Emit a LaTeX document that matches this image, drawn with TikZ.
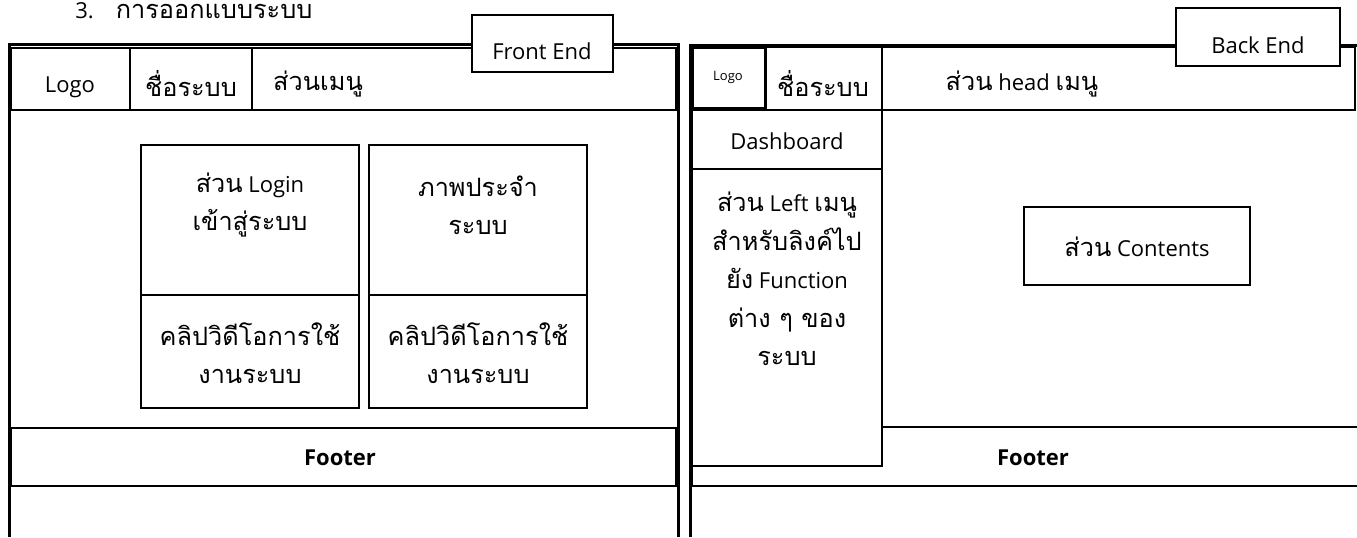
\documentclass[tikz,border=0pt]{standalone}
\usepackage{fontspec}
\setmainfont{Open Sans}
\newfontfamily\thai[Script=Thai,Scale=1.15]{Loma}
\usepackage{tikz}

\begin{document}
\begin{tikzpicture}[x=0.5pt, y=-0.5pt]
        \tikzset{
            kader/.style={line width=1.5pt},
            vak/.style={line width=1pt},
            tekst/.style={font=\fontsize{11}{19}\selectfont, align=center, inner sep=0pt},
            voet/.style={font=\fontsize{11}{19}\selectfont\bfseries, inner sep=0pt},
        }
        \useasboundingbox (0,0) rectangle (1357,537);

        % Titel
        \node[tekst, anchor=west] (titel) at (75,11) {3.\quad{\thai การออกแบบระบบ}};

        % Front End: kader en kopregel
        \draw[kader] (9,537) -- (9,44) -- (678,44) -- (678,537);
        \draw[vak] (11,48) rectangle (676,110);
        \draw[vak] (130,48) -- (130,110);
        \draw[vak] (252,48) -- (252,110);
        \node[tekst] (logoF) at (70,87) {Logo};
        \node[tekst] (naamF) at (191,84) {\thai ชื่อระบบ};
        \node[tekst] (menuF) at (318,84) {\thai ส่วนเมนู};
        \draw[vak, fill=white] (472,15) rectangle (613,72);
        \node[tekst] (frontend) at (542,51) {Front End};

        % Front End: inhoudsvakken
        \foreach \x in {141, 369} {
            \draw[vak] (\x,145) rectangle ({\x+218},408);
            \draw[vak] (\x,295) -- ({\x+218},295);
        }
        \node[tekst] (login) at (250,205) {{\thai ส่วน} Login\\{\thai เข้าสู่ระบบ}};
        \node[tekst] (beeld) at (478,205) {\thai ภาพประจำ\\\thai ระบบ};
        \node[tekst] (clipA) at (250,353) {\thai คลิปวิดีโอการใช้\\\thai งานระบบ};
        \node[tekst] (clipB) at (478,353) {\thai คลิปวิดีโอการใช้\\\thai งานระบบ};

        % Front End: footer
        \draw[vak] (11,428) rectangle (676,486);
        \node[voet] (footerF) at (340,458) {Footer};

        % Back End: kader en kopregel
        \draw[kader] (690,537) -- (690,45) -- (1357,45);
        \draw[vak] (882,47) rectangle (1355,110);
        \draw[vak] (765,47) rectangle (882,110);
        \draw[kader] (692,47) rectangle (765,108);
        \node[font=\fontsize{6.5}{8}\selectfont, inner sep=0pt] (logoB) at (728,77) {Logo};
        \node[tekst] (naamB) at (823,84) {\thai ชื่อระบบ};
        \node[tekst] (menuB) at (1022,84) {{\thai ส่วน} head {\thai เมนู}};
        \draw[vak, fill=white] (1176,8) rectangle (1340,66);
        \node[tekst] (backend) at (1258,45) {Back End};

        % Back End: inhoud en footer
        \draw[vak] (882,427) -- (1357,427);
        \draw[vak] (692,427) -- (692,486) -- (1357,486);
        \node[voet] (footerB) at (1033,458) {Footer};
        \draw[vak] (1024,207) rectangle (1250,285);
        \node[tekst] (inhoud) at (1137,247) {{\thai ส่วน} Contents};

        % Back End: linker menu
        \draw[vak, fill=white] (692,110) rectangle (882,466);
        \draw[vak] (692,169) -- (882,169);
        \node[tekst] (dash) at (787,141) {Dashboard};
        \node[tekst, font=\fontsize{11}{19.3}\selectfont] (linksmenu) at (787,279)
            {{\thai ส่วน} Left {\thai เมนู}\\{\thai สำหรับลิงค์ไป}\\{\thai ยัง} Function\\{\thai ต่าง ๆ ของ}\\{\thai ระบบ}};
\end{tikzpicture}
\end{document}
